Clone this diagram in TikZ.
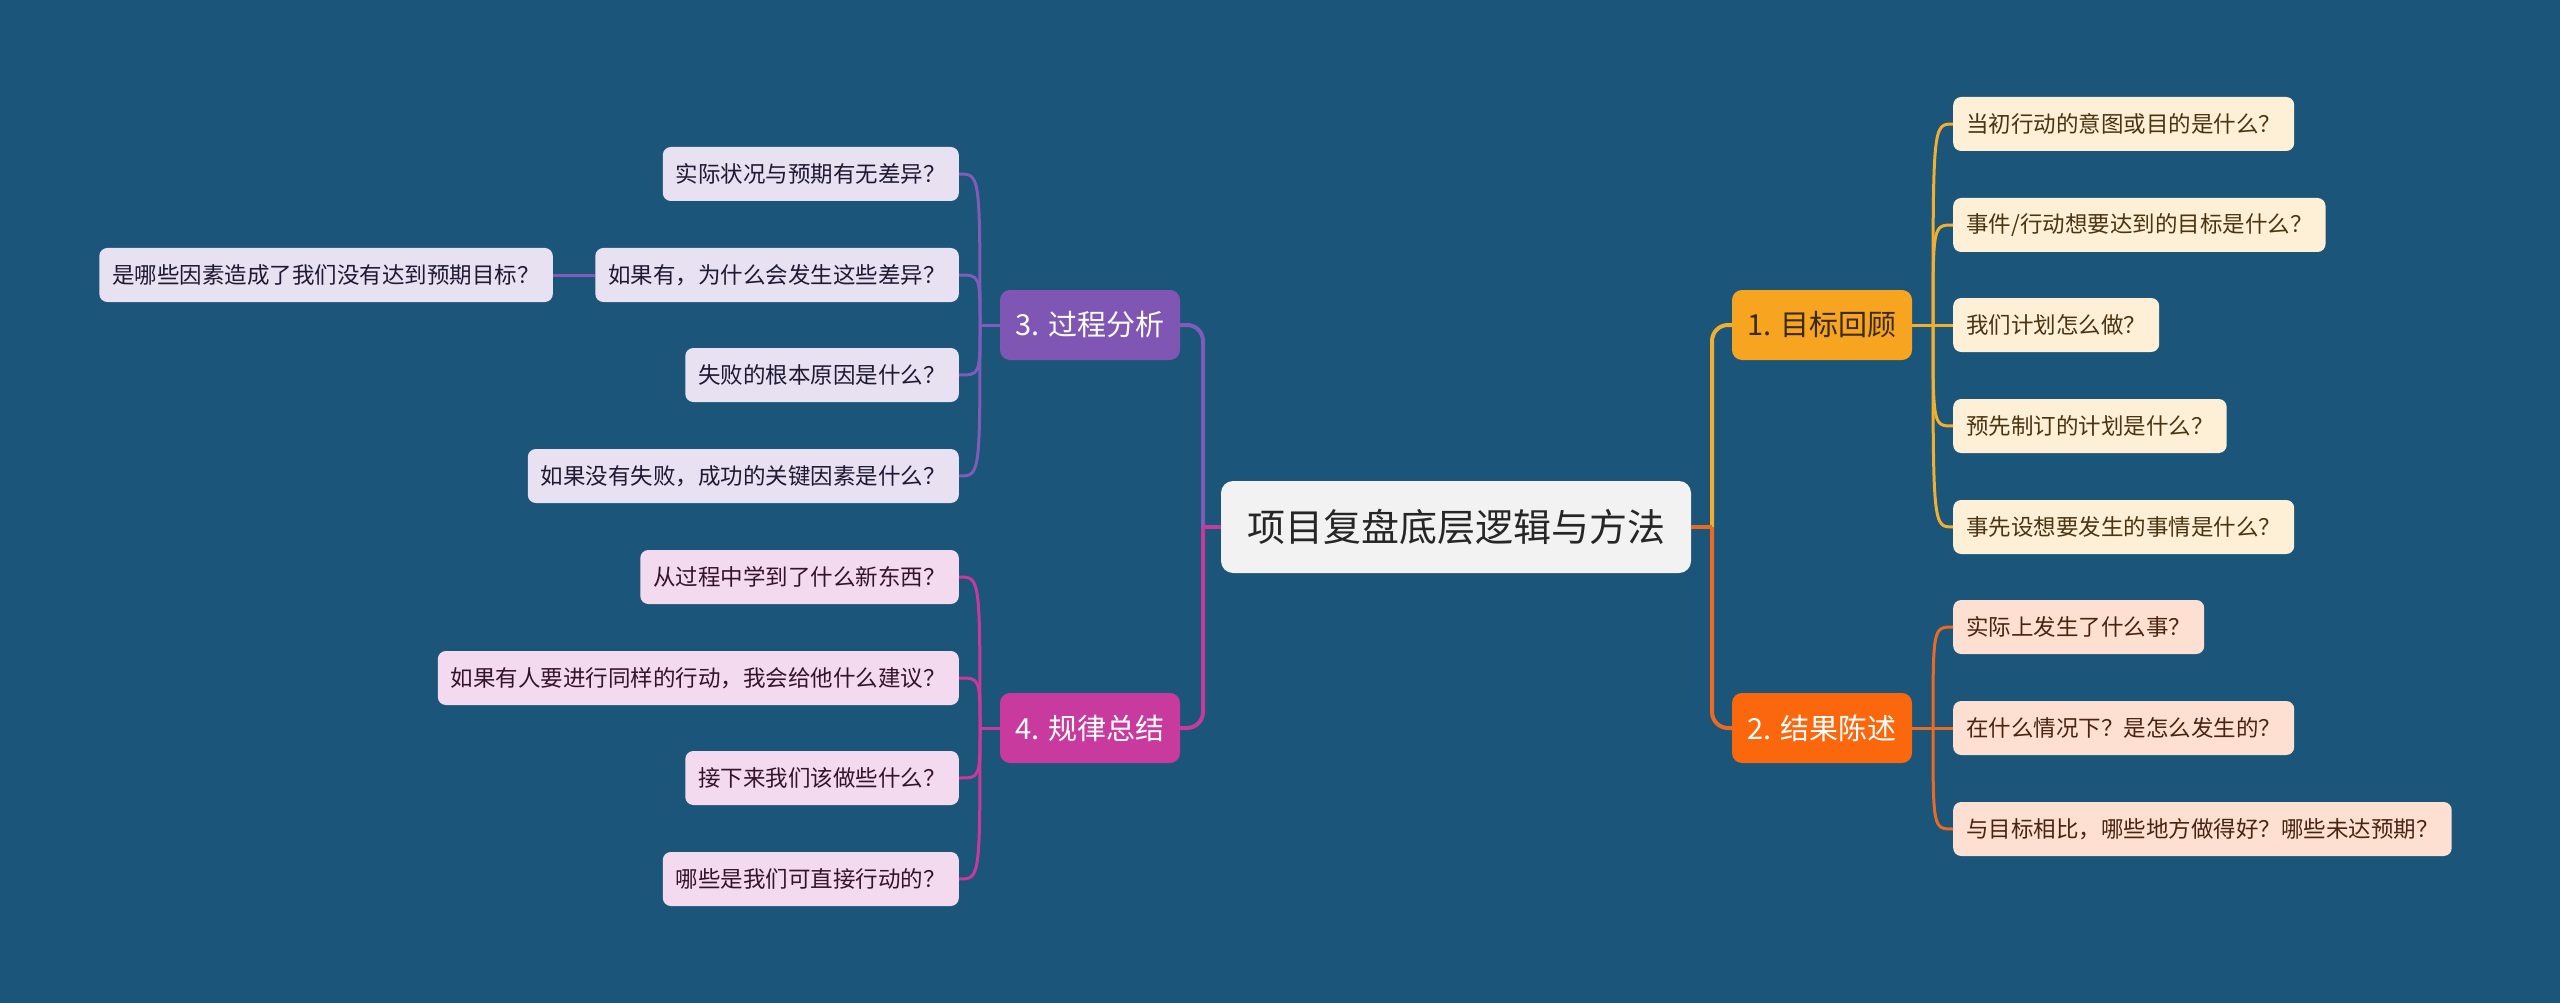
\documentclass[tikz,border=0pt]{standalone}
\usepackage{fontspec}
\setmainfont{Noto Sans CJK SC}
\definecolor{bg}{HTML}{1B5579}
\definecolor{cfill}{HTML}{F2F2F2}
\definecolor{ctext}{HTML}{262626}
\definecolor{bAfill}{HTML}{F7A520}
\definecolor{bAtext}{HTML}{3A2A10}
\definecolor{bBfill}{HTML}{FA670C}
\definecolor{bCfill}{HTML}{7F56B4}
\definecolor{bDfill}{HTML}{C93A9E}
\definecolor{kAfill}{HTML}{FEF0D6}
\definecolor{kAtext}{HTML}{4A3412}
\definecolor{kBfill}{HTML}{FEE0D2}
\definecolor{kBtext}{HTML}{4A2412}
\definecolor{kCfill}{HTML}{E7E1F1}
\definecolor{kCtext}{HTML}{1E1A33}
\definecolor{kDfill}{HTML}{F4DAEE}
\definecolor{kDtext}{HTML}{33142B}
\definecolor{lA}{HTML}{F2AE2E}
\definecolor{lB}{HTML}{EB6A22}
\definecolor{lC}{HTML}{7E5CB7}
\definecolor{lD}{HTML}{C73A9C}
\tikzset{
  central/.style={fill=cfill, text=ctext, rounded corners=12pt, minimum width=470pt, minimum height=92pt, inner sep=0pt, font=\fontsize{38}{44}\selectfont},
  branch/.style={rounded corners=10pt, minimum width=180pt, minimum height=70pt, inner sep=0pt, font=\fontsize{29}{34}\selectfont},
  leaf/.style={rounded corners=8pt, inner xsep=13pt, inner ysep=0pt, minimum height=54pt, font=\fontsize{22.5}{27}\selectfont},
  leafA/.style={leaf, fill=kAfill, text=kAtext, anchor=west},
  leafB/.style={leaf, fill=kBfill, text=kBtext, anchor=west},
  leafC/.style={leaf, fill=kCfill, text=kCtext, anchor=east},
  leafD/.style={leaf, fill=kDfill, text=kDtext, anchor=east},
  mainline/.style={line width=4pt, rounded corners=16pt},
  subline/.style={line width=3pt},
}
\begin{document}
\begin{tikzpicture}[x=1pt,y=-1pt]
\fill[bg] (0,0) rectangle (2560,1003);
\useasboundingbox (0,0) rectangle (2560,1003);

% central
\node[central] (c) at (1456,527) {项目复盘底层逻辑与方法};

% branches
\node[branch, fill=bAfill, text=bAtext] (bA) at (1822,325) {1. 目标回顾};
\node[branch, fill=bBfill, text=white] (bB) at (1822,728) {2. 结果陈述};
\node[branch, fill=bCfill, text=white] (bC) at (1090,325) {3. 过程分析};
\node[branch, fill=bDfill, text=white] (bD) at (1090,728) {4. 规律总结};

% leaves of 1
\node[leafA] (a1) at (1953,124) {当初行动的意图或目的是什么？};
\node[leafA] (a2) at (1953,225) {事件/行动想要达到的目标是什么？};
\node[leafA] (a3) at (1953,325) {我们计划怎么做？};
\node[leafA] (a4) at (1953,426) {预先制订的计划是什么？};
\node[leafA] (a5) at (1953,527) {事先设想要发生的事情是什么？};

% leaves of 2
\node[leafB] (r1) at (1953,627) {实际上发生了什么事？};
\node[leafB] (r2) at (1953,728) {在什么情况下？是怎么发生的？};
\node[leafB] (r3) at (1953,829) {与目标相比，哪些地方做得好？哪些未达预期？};

% leaves of 3
\node[leafC] (p1) at (959,174) {实际状况与预期有无差异？};
\node[leafC] (p2) at (959,275) {如果有，为什么会发生这些差异？};
\node[leafC] (p3) at (959,375) {失败的根本原因是什么？};
\node[leafC] (p4) at (959,476) {如果没有失败，成功的关键因素是什么？};
\node[leafC] (g1) at (553,275) {是哪些因素造成了我们没有达到预期目标？};

% leaves of 4
\node[leafD] (s1) at (959,577) {从过程中学到了什么新东西？};
\node[leafD] (s2) at (959,678) {如果有人要进行同样的行动，我会给他什么建议？};
\node[leafD] (s3) at (959,778) {接下来我们该做些什么？};
\node[leafD] (s4) at (959,879) {哪些是我们可直接行动的？};

% main connectors
\coordinate (rj) at (1712,527);
\coordinate (lj) at (1203,527);
\draw[mainline, lA] (rj) |- (bA.west);
\draw[mainline, lB] (rj) |- (bB.west);
\draw[line width=4pt, lB] (c.east) -- (rj);
\draw[mainline, lC] (lj) |- (bC.east);
\draw[mainline, lD] (lj) |- (bD.east);
\draw[line width=4pt, lD] (c.west) -- (lj);

% spines
\coordinate (sA) at (1933,325);
\coordinate (sB) at (1933,728);
\coordinate (sC) at (980,325);
\coordinate (sD) at (980,728);

\draw[subline, lA] (bA.east) -- (a3.west);
\foreach \n in {a1,a2,a4,a5}
  \draw[subline, lA] (sA) .. controls (sA |- \n.west) and (sA |- \n.west) .. (\n.west);

\draw[subline, lB] (bB.east) -- (r2.west);
\foreach \n in {r1,r3}
  \draw[subline, lB] (sB) .. controls (sB |- \n.west) and (sB |- \n.west) .. (\n.west);

\draw[subline, lC] (bC.west) -- (sC);
\foreach \n in {p1,p2,p3,p4}
  \draw[subline, lC] (sC) .. controls (sC |- \n.east) .. (\n.east);
\draw[subline, lC] (p2.west) -- (g1.east);

\draw[subline, lD] (bD.west) -- (sD);
\foreach \n in {s1,s2,s3,s4}
  \draw[subline, lD] (sD) .. controls (sD |- \n.east) and (sD |- \n.east) .. (\n.east);
\end{tikzpicture}
\end{document}
